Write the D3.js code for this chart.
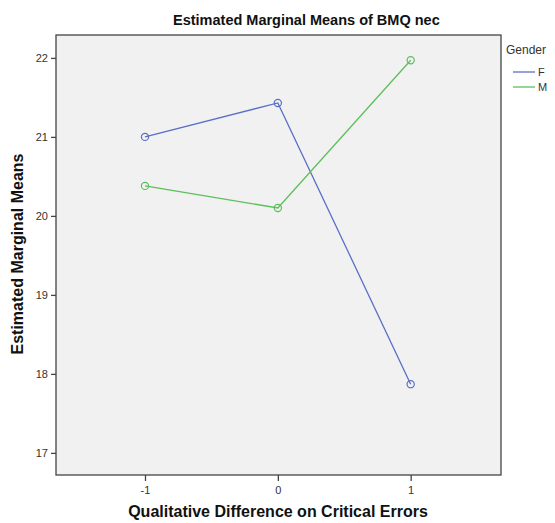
<!DOCTYPE html>
<html><head><meta charset="utf-8">
<script src="https://cdn.jsdelivr.net/npm/d3@7"></script>
<style>body{margin:0;background:#fff}svg{display:block}text{font-family:"Liberation Sans",Arial,sans-serif}</style>
</head><body><svg id="c" width="555" height="523"></svg>
<script>
const categories = [-1, 0, 1];
const categoryLabels = ["-1", "0", "1"];
const seriesNames = ["F", "M"];
const valuesF = [21.00, 21.43, 17.87];
const valuesM = [20.38, 20.10, 21.97];
const yTicks = [17, 18, 19, 20, 21, 22];
const colors = {F: "#5a6fc6", M: "#5cbf5c"};

const svg = d3.select("#c");
const L = 56, R = 501, T = 35, B = 475;
const x = d3.scaleLinear().domain([-1.67, 1.68]).range([L, R]);
const y = d3.scaleLinear().domain([16.72, 22.29]).range([B, T]);

svg.append("rect").attr("x", L).attr("y", T).attr("width", R - L).attr("height", B - T)
  .attr("fill", "#f1f1f1").attr("stroke", "#444").attr("stroke-width", 1.3);

const ya = svg.append("g").attr("transform", `translate(${L},0)`)
  .call(d3.axisLeft(y).tickValues(yTicks).tickSize(5).tickPadding(3).tickFormat(d3.format("d")));
const xa = svg.append("g").attr("transform", `translate(0,${B})`)
  .call(d3.axisBottom(x).tickValues(categories).tickSize(6).tickPadding(5)
    .tickFormat((d, i) => categoryLabels[i]));
[ya, xa].forEach(a => {
  a.select(".domain").remove();
  a.selectAll("line").attr("stroke", "#444").attr("stroke-width", 1.3);
  a.selectAll("text").attr("fill", "#333").style("font-size", "11px");
});

const series = [{name: "F", values: valuesF}, {name: "M", values: valuesM}];
const line = d3.line().x((d, i) => x(categories[i])).y(d => y(d));
series.forEach(s => {
  svg.append("path").attr("d", line(s.values)).attr("fill", "none")
    .attr("stroke", colors[s.name]).attr("stroke-width", 1.3);
  svg.selectAll(null).data(s.values).enter().append("circle")
    .attr("cx", (d, i) => x(categories[i])).attr("cy", d => y(d)).attr("r", 3.6)
    .attr("fill", "none").attr("stroke", colors[s.name]).attr("stroke-width", 1.2);
});

svg.append("text").attr("x", 173).attr("y", 25).attr("text-anchor", "start")
  .style("font-size", "14.5px").style("font-weight", "bold").attr("fill", "#111")
  .text("Estimated Marginal Means of BMQ nec");
svg.append("text").attr("x", 278).attr("y", 517).attr("text-anchor", "middle")
  .style("font-size", "16px").style("font-weight", "bold").attr("fill", "#111")
  .text("Qualitative Difference on Critical Errors");
svg.append("text").attr("transform", "translate(23,254) rotate(-90)").attr("text-anchor", "middle")
  .style("font-size", "16px").style("font-weight", "bold").attr("fill", "#111")
  .text("Estimated Marginal Means");

svg.append("text").attr("x", 506).attr("y", 54).style("font-size", "12px").attr("fill", "#333").text("Gender");
seriesNames.forEach((n, i) => {
  const yy = 72 + i * 15;
  svg.append("line").attr("x1", 513).attr("x2", 535).attr("y1", yy).attr("y2", yy)
    .attr("stroke", colors[n]).attr("stroke-width", 1.3);
  svg.append("text").attr("x", 538).attr("y", yy + 4).style("font-size", "11px").attr("fill", "#333").text(n);
});
</script></body></html>
